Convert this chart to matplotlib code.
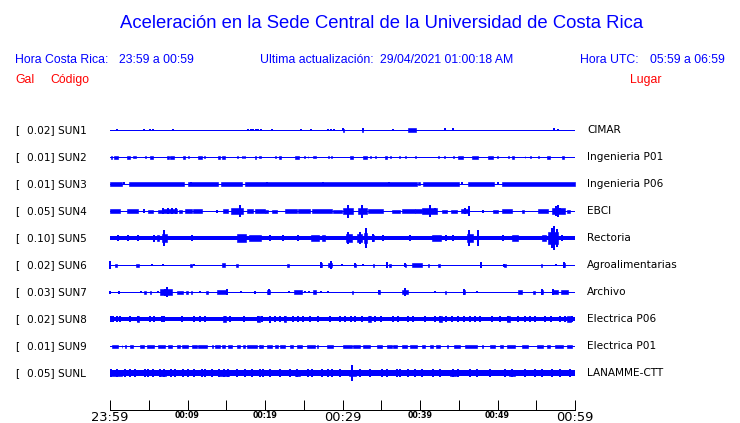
import matplotlib.pyplot as plt

W, H = 740, 423

codigos = ["SUN1", "SUN2", "SUN3", "SUN4", "SUN5", "SUN6", "SUN7", "SUN8", "SUN9", "SUNL"]
escalas = ["0.02", "0.01", "0.01", "0.05", "0.10", "0.02", "0.03", "0.02", "0.01", "0.05"]
lugares = ["CIMAR", "Ingenieria P01", "Ingenieria P06", "EBCI", "Rectoria",
           "Agroalimentarias", "Archivo", "Electrica P06", "Electrica P01", "LANAMME-CTT"]

ticks_min = list(range(0, 61, 5))
ticks_txt = ["23:59", "", "00:09", "", "00:19", "", "00:29", "", "00:39", "", "00:49", "", "00:59"]
ticks_grandes = ["23:59", "00:29", "00:59"]

# semi-ancho del ruido de fondo de cada traza (px)
base = [0.5, 0.5, 0.5, 0.5, 2.0, 0.5, 0.5, 2.0, 0.5, 2.2]

# tramos (min inicio, min fin, semi-amplitud px) y picos (min, semi-amplitud px)
tramos_sun1 = [(30.0, 30.2, 1.5), (32.5, 32.7, 1.5), (38.5, 39.5, 1.8)]
picos_sun1 = [(0.9, 1.3), (4.4, 1.3), (5.2, 1.3), (5.5, 1.3), (8.1, 1.3), (17.8, 1.3), (18.2, 1.3),
              (18.5, 1.3), (18.8, 1.3), (19.1, 1.3), (19.5, 1.3), (20.9, 1.3), (24.6, 1.3), (25.9, 1.3),
              (28.1, 1.3), (28.5, 1.3), (28.9, 1.3), (30.1, 1.5), (32.6, 1.5), (36.5, 1.3), (43.2, 1.5),
              (44.3, 1.5), (57.3, 1.5), (57.8, 1.3)]

tramos_sun2 = [(0.1, 0.3, 1.5), (0.5, 1.0, 1.5), (2.2, 2.6, 1.5), (3.0, 3.4, 1.2), (4.5, 4.6, 1.2),
               (5.2, 5.6, 1.5), (7.3, 7.6, 1.5), (7.8, 8.3, 1.5), (9.4, 9.7, 1.5), (10.1, 10.2, 1.2),
               (11.4, 11.9, 1.5), (12.1, 12.2, 1.2), (13.9, 14.2, 1.5), (14.4, 14.8, 1.5), (16.4, 16.5, 1.2),
               (17.0, 17.1, 1.2), (17.3, 17.4, 1.2), (18.7, 18.9, 1.5), (19.2, 19.5, 1.2), (21.3, 21.4, 1.2),
               (21.8, 22.0, 1.5), (23.9, 24.4, 1.5), (25.0, 25.1, 1.2), (25.5, 25.6, 1.2), (26.2, 26.6, 1.2),
               (28.1, 28.2, 1.2), (28.5, 28.6, 1.2), (31.0, 31.4, 1.5), (32.6, 33.2, 1.5), (33.5, 33.7, 1.2),
               (34.2, 34.3, 1.2), (35.5, 35.7, 1.5), (36.1, 36.2, 1.2), (37.3, 37.4, 1.2), (38.1, 38.2, 1.2),
               (39.4, 39.5, 1.2), (42.3, 42.4, 1.2), (43.1, 43.2, 1.2), (44.3, 44.4, 1.2), (44.9, 45.5, 1.5),
               (46.7, 47.5, 1.5), (48.8, 49.4, 1.5), (49.9, 50.0, 1.2), (51.4, 51.5, 1.2), (51.9, 52.1, 1.5),
               (53.5, 53.6, 1.2), (54.2, 54.3, 1.2), (55.2, 55.3, 1.2), (56.4, 56.8, 1.5), (58.3, 58.6, 1.5)]
picos_sun2 = []

tramos_sun3 = [(0.0, 1.5, 2.0), (2.4, 9.6, 2.0), (10.0, 13.9, 2.0), (14.3, 17.0, 2.0), (17.4, 39.6, 2.0),
               (39.8, 40.0, 1.5), (40.4, 45.0, 2.0), (46.2, 49.6, 2.0), (50.6, 60.0, 2.0)]
picos_sun3 = [(1.8, 1.5), (10.5, 2.4), (20.2, 2.4), (27.5, 2.4), (36.0, 2.4), (45.4, 1.5), (50.1, 1.5)]

tramos_sun4 = [(0.0, 1.3, 1.8), (2.2, 3.6, 1.8), (4.9, 5.6, 1.5), (6.2, 6.8, 1.5), (6.8, 8.6, 2.2),
               (8.9, 9.3, 1.5), (9.7, 10.6, 1.8), (10.7, 11.9, 1.8), (14.6, 15.2, 1.8), (15.6, 17.2, 2.6),
               (17.7, 18.5, 1.8), (18.7, 20.0, 1.8), (20.0, 20.4, 1.5), (20.9, 21.6, 1.5), (22.6, 24.1, 1.8),
               (24.3, 25.8, 1.8), (26.1, 28.7, 1.8), (28.8, 29.9, 1.5), (30.1, 31.4, 2.6), (32.0, 33.2, 2.6),
               (33.3, 35.2, 1.8), (36.4, 37.4, 1.5), (37.7, 39.4, 1.8), (39.4, 40.3, 1.8), (40.3, 42.2, 2.6),
               (42.9, 43.5, 1.5), (44.0, 44.8, 1.5), (45.3, 46.3, 2.2), (49.4, 50.1, 1.5), (50.6, 51.9, 1.8),
               (53.2, 53.4, 1.5), (55.2, 56.5, 1.8), (57.0, 58.7, 2.6), (59.0, 59.4, 1.5)]
picos_sun4 = [(4.4, 1.8), (6.9, 2.7), (7.5, 3), (8.0, 2.7), (8.5, 2.7), (13.8, 1.5), (16.8, 6), (30.7, 6.5),
              (32.5, 6.5), (41.3, 6), (41.9, 3), (45.8, 3), (46.3, 5), (48.1, 1.5), (57.5, 5), (57.8, 6),
              (58.1, 3)]

tramos_sun5 = [(6.0, 6.3, 3), (6.7, 7.4, 4), (16.4, 17.6, 4), (17.9, 19.5, 3), (25.9, 27.0, 3),
               (27.4, 27.7, 3), (30.5, 31.2, 4), (31.9, 32.5, 4), (32.8, 33.2, 5), (33.8, 34.1, 3),
               (41.6, 42.7, 3), (46.1, 46.8, 4), (51.9, 52.6, 3), (55.8, 56.3, 3), (56.5, 57.8, 6)]
picos_sun5 = [(1.0, 3), (2.3, 3), (3.6, 2.7), (5.7, 3.5), (7.0, 8), (10.6, 3), (20.6, 2.7), (22.3, 2.7),
              (24.3, 2.7), (30.7, 6), (32.2, 6), (33.0, 10), (33.9, 4), (35.2, 3), (38.7, 2.7), (43.4, 3),
              (44.3, 3), (46.3, 8), (47.5, 8), (50.7, 3), (57.0, 10), (57.3, 12), (57.7, 9), (58.3, 3)]

tramos_sun6 = [(0.6, 0.9, 1.5), (3.4, 3.7, 1.5), (10.3, 10.6, 1.5), (14.5, 14.9, 1.8), (16.2, 16.5, 1.5),
               (22.9, 23.1, 1.5), (27.2, 27.4, 2.2), (28.1, 28.7, 1.8), (31.5, 31.7, 1.5), (33.9, 34.1, 1.5),
               (35.6, 35.8, 1.5), (36.0, 36.3, 1.5), (38.0, 38.2, 1.5), (39.0, 40.3, 1.8), (41.0, 41.2, 1.5),
               (42.3, 42.6, 1.5), (50.9, 51.1, 1.5), (55.6, 55.8, 1.5), (58.4, 58.7, 1.8)]
picos_sun6 = [(0.0, 4), (5.4, 1.3), (6.8, 1.3), (10.8, 1.3), (27.2, 3), (28.5, 4), (29.9, 1.3), (31.6, 2.3),
              (32.7, 1.3), (35.7, 2.7), (38.1, 2.3), (47.9, 2.7), (50.9, 1.5), (57.6, 1.3), (58.6, 2.7)]

tramos_sun7 = [(4.4, 4.6, 1.5), (5.1, 5.3, 1.5), (6.4, 8.0, 2.6), (8.6, 9.4, 1.5), (9.8, 10.1, 1.5),
               (10.4, 10.6, 1.5), (12.4, 12.6, 1.5), (13.8, 15.0, 1.8), (20.3, 20.6, 2.2), (23.8, 24.8, 1.8),
               (26.2, 26.6, 1.8), (31.2, 31.4, 1.5), (34.6, 34.8, 1.8), (37.7, 38.4, 2.2), (43.2, 43.4, 1.5),
               (45.6, 45.8, 2.2), (52.6, 53.2, 1.8), (54.6, 54.9, 1.5), (55.6, 55.9, 2.2), (57.0, 57.8, 1.8),
               (58.2, 59.1, 1.8)]
picos_sun7 = [(0.0, 1.5), (1.2, 1.5), (4.0, 1.3), (6.2, 1.3), (7.1, 3.5), (7.4, 5), (11.6, 1.3), (15.1, 3),
              (16.9, 1.3), (18.7, 1.5), (20.5, 3), (23.1, 1.3), (25.1, 1.3), (25.7, 1.3), (27.2, 1.3),
              (28.1, 1.3), (34.7, 2.3), (38.0, 4), (41.9, 1.3), (45.7, 2.7), (47.3, 1.3), (55.7, 2.7),
              (57.2, 2.7)]

tramos_sun8 = [(3.5, 3.8, 2.8), (14.6, 15.0, 2.8), (19.0, 19.3, 2.8), (22.4, 22.7, 2.8), (33.3, 33.7, 2.8),
               (42.4, 42.8, 2.8), (51.2, 51.6, 2.8), (59.0, 59.5, 2.8)]
picos_sun8 = [(0.1, 3), (0.4, 3), (0.9, 3), (1.3, 3), (2.6, 3), (3.6, 3), (5.2, 3), (5.7, 3), (6.7, 3),
              (7.0, 3), (9.3, 3), (10.8, 3), (11.6, 3), (12.3, 3), (14.8, 3), (15.5, 3), (17.3, 3),
              (19.1, 3), (19.6, 3), (20.7, 3.5), (21.3, 3), (21.9, 3), (22.6, 3), (23.6, 3), (24.3, 3),
              (24.9, 3), (25.8, 3), (26.8, 3), (28.4, 3), (29.7, 3), (30.3, 3), (31.1, 3), (31.6, 3),
              (32.5, 3), (33.6, 3), (34.2, 3), (35.0, 3), (36.5, 3), (37.2, 3), (38.5, 3), (39.1, 3),
              (40.7, 3), (41.9, 3), (42.6, 3), (43.4, 3), (44.1, 3), (44.9, 3), (45.7, 3), (46.5, 3),
              (47.1, 3), (47.7, 3), (49.3, 3), (50.3, 3), (51.4, 3), (52.7, 3), (53.6, 3), (54.2, 3),
              (54.8, 3), (56.1, 3), (56.9, 3), (58.1, 3), (58.7, 3), (59.6, 3)]

tramos_sun9 = [(0.3, 1.0, 1.5), (1.5, 1.6, 1.5), (1.9, 2.0, 1.5), (2.6, 3.0, 1.5), (3.9, 4.4, 1.5),
               (4.8, 5.7, 1.5), (6.2, 7.1, 1.5), (7.5, 8.0, 1.5), (8.7, 9.0, 1.5), (9.3, 10.1, 1.5),
               (10.6, 11.2, 1.5), (11.4, 12.5, 1.5), (13.2, 13.3, 1.5), (13.6, 14.2, 1.5), (14.5, 14.8, 1.5),
               (15.2, 15.7, 1.5), (16.4, 16.8, 1.5), (17.2, 17.4, 1.5), (17.7, 19.0, 1.5), (19.2, 19.3, 1.5),
               (19.4, 19.7, 1.5), (20.3, 20.9, 1.5), (21.3, 21.7, 1.5), (21.9, 22.6, 1.5), (23.2, 23.6, 1.5),
               (24.1, 24.8, 1.5), (25.4, 26.5, 1.5), (26.7, 26.8, 1.5), (28.0, 28.8, 1.5), (30.1, 31.2, 1.5),
               (31.4, 32.3, 1.5), (32.7, 33.5, 1.5), (34.5, 35.1, 1.5), (35.7, 36.4, 1.5), (36.5, 37.0, 1.5),
               (37.7, 38.3, 1.5), (38.7, 39.6, 1.5), (40.3, 40.7, 1.5), (41.3, 41.7, 1.5), (42.1, 42.6, 1.5),
               (43.5, 43.6, 1.5), (44.4, 45.2, 1.5), (45.8, 47.4, 1.5), (48.0, 48.1, 1.5), (49.0, 49.7, 1.5),
               (50.3, 50.7, 1.5), (51.2, 52.3, 1.5), (53.2, 53.9, 1.5), (55.1, 55.9, 1.5), (56.4, 56.8, 1.5),
               (57.4, 58.5, 1.5), (59.0, 59.6, 1.5)]
picos_sun9 = []

tramos_sunl = [(0.0, 1.5, 3.0), (6.4, 7.2, 3.0), (14.0, 15.3, 3.0), (23.9, 24.5, 3.0), (30.8, 31.8, 3.0),
               (43.9, 44.6, 3.0), (51.5, 52.2, 3.0)]
picos_sunl = [(0.1, 4), (0.9, 4), (1.9, 4), (2.6, 4), (3.2, 4), (4.5, 4), (4.9, 4), (5.5, 4),
              (6.5, 4), (7.0, 4), (7.9, 4), (8.4, 4), (9.4, 4), (10.1, 4), (10.8, 4), (11.9, 4),
              (12.3, 4), (13.2, 4), (14.1, 4), (14.7, 4), (15.2, 4), (16.4, 4), (17.4, 4),
              (18.3, 4), (19.4, 4), (19.7, 4), (20.6, 4), (21.9, 4), (23.2, 4), (24.1, 4),
              (25.5, 4), (26.1, 4), (27.4, 4), (28.1, 4), (28.6, 4), (29.7, 4), (31.2, 8),
              (32.3, 4), (33.5, 4), (35.1, 4), (35.7, 4), (37.0, 4), (37.4, 4), (38.5, 4),
              (39.4, 4), (40.3, 4), (41.7, 4), (42.6, 4), (44.3, 4), (44.9, 4), (46.5, 4),
              (47.4, 4), (49.0, 4), (51.0, 4), (51.9, 4), (53.5, 4), (54.8, 4), (55.7, 4),
              (57.0, 4), (58.1, 4), (59.4, 4)]

tramos = [tramos_sun1, tramos_sun2, tramos_sun3, tramos_sun4, tramos_sun5,
          tramos_sun6, tramos_sun7, tramos_sun8, tramos_sun9, tramos_sunl]
picos = [picos_sun1, picos_sun2, picos_sun3, picos_sun4, picos_sun5,
         picos_sun6, picos_sun7, picos_sun8, picos_sun9, picos_sunl]

AZUL = "#0000ff"
ROJO = "#ff0000"
PX = 72 / 100  # 1 px en puntos


def fx(x):
    return x / W


def fy(y):
    return 1 - y / H


fig = plt.figure(figsize=(W / 100, H / 100), dpi=100)
fig.patch.set_facecolor("white")

# encabezado
hdr = dict(family="Liberation Sans", color=AZUL, va="center", ha="left")
fig.text(fx(120), fy(23), "Aceleración en la Sede Central de la Universidad de Costa Rica",
         fontsize=13.3, **hdr)
fig.text(fx(15), fy(60), "Hora Costa Rica:", fontsize=8.8, **hdr)
fig.text(fx(119), fy(60), "23:59 a 00:59", fontsize=8.8, **hdr)
fig.text(fx(260), fy(60), "Ultima actualización:", fontsize=8.8, **hdr)
fig.text(fx(380), fy(60), "29/04/2021 01:00:18 AM", fontsize=8.8, **hdr)
fig.text(fx(580), fy(60), "Hora UTC:", fontsize=8.8, **hdr)
fig.text(fx(650), fy(60), "05:59 a 06:59", fontsize=8.8, **hdr)
hdr["color"] = ROJO
fig.text(fx(15), fy(80), "Gal", fontsize=8.8, **hdr)
fig.text(fx(50), fy(80), "Código", fontsize=8.8, **hdr)
fig.text(fx(630), fy(80), "Lugar", fontsize=8.8, **hdr)

ax = fig.add_axes([fx(110), fy(410), 465 / W, 295 / H])
ax.set_xlim(0, 60)
ax.set_ylim(410, 115)
ax.set_facecolor("none")

for i in range(len(codigos)):
    y = 130 + 27 * i
    ax.hlines(y, 0, 60, color=AZUL, lw=max(2 * base[i], 1) * PX, antialiased=False)
    for t0, t1, a in tramos[i]:
        ax.fill_between([t0, t1], y - a, y + a, color=AZUL, lw=0.6 * PX, antialiased=False)
    for t, a in picos[i]:
        ax.vlines(t, y - a, y + a, color=AZUL, lw=1.6 * PX, antialiased=False, capstyle="butt",
                  clip_on=False)
    fig.text(fx(15), fy(y), "[", fontsize=7.6, va="center", ha="left")
    fig.text(fx(27), fy(y), escalas[i] + "] " + codigos[i], fontsize=7.6, va="center", ha="left")
    fig.text(fx(587), fy(y), lugares[i], fontsize=7.6, va="center", ha="left")

for s in ["top", "left", "right"]:
    ax.spines[s].set_visible(False)
ax.spines["bottom"].set_linewidth(PX)
ax.set_yticks([])
ax.set_xticks(ticks_min)
ax.set_xticklabels(ticks_txt)
ax.tick_params(axis="x", direction="in", length=10 * PX, width=PX, pad=1)
for lab in ax.get_xticklabels():
    if lab.get_text() in ticks_grandes:
        lab.set_fontsize(9.4)
    else:
        lab.set_fontsize(5.7)
        lab.set_fontweight("bold")

fig.savefig("out.png", dpi=100)
